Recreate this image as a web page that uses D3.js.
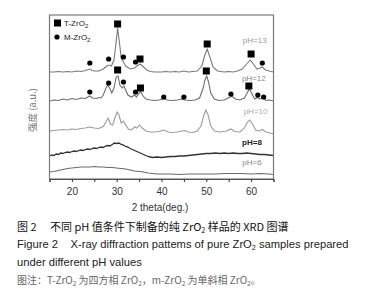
<!DOCTYPE html>
<html><head><meta charset="utf-8">
<script src="https://cdn.jsdelivr.net/npm/d3@7/dist/d3.min.js"></script>
<style>body{margin:0;background:#fff}svg{display:block}text{font-family:"Liberation Sans",Arial,sans-serif;white-space:pre}</style>
</head><body><svg id="c" width="369" height="300"></svg>
<script>
// ---- data (2θ in degrees, intensity in arbitrary units) ----
const xTicks = [20, 30, 40, 50, 60];
const ph13 = [[15,107],[16,107],[17,107.5],[18,107],[19,107.5],[20,107],[21,108],[22,107.5],[23,108.5],[24,110],[24.5,108.5],[25,108],[26,108],[27,110],[27.8,113],[28.2,114],[28.8,113],[29.4,119],[29.8,134],[30.2,151],[30.6,137],[31.0,121],[31.5,117],[32,113],[33,110],[34,111],[34.5,113],[35.2,115],[36,112],[36.7,109],[37.5,107.5],[38.5,107],[40,107],[41,107.5],[42,107],[43,107.5],[44,107],[45,108],[46,107],[47,107.5],[48,108],[49,113],[49.6,123],[50.2,130],[50.8,122],[51.5,112],[52.5,108],[54,107],[55,107.5],[56,107],[57,108],[58,110],[59,115],[59.8,119],[60.5,115],[61.3,110],[62,111],[62.5,112],[63.2,109],[64,108],[65,107]];
const ph12 = [[15,78],[16,79],[17,78.5],[18,80],[19,79],[20,80.5],[21,79.5],[22,81],[23,80.5],[24,83],[24.6,81],[25.5,80.5],[26,81.5],[26.5,81],[27,84],[27.6,91],[28.0,94],[28.4,91],[28.9,86],[29.4,91],[29.9,102],[30.3,103],[30.7,94],[31.2,91],[31.6,93],[32.0,89],[32.5,84],[33.3,82],[34,84],[34.4,82],[35.0,86],[35.4,87],[35.9,83],[36.5,80],[37.5,79],[38.5,78.5],[39.5,79],[40.5,80.5],[41.3,79],[42.5,78.5],[43.5,79],[44.5,80],[45.2,79],[46.5,78.5],[47.5,79],[48.5,81],[49.3,91],[49.7,99],[50.1,103],[50.5,97],[51,86],[51.8,80],[52.8,78.5],[54,79],[55.3,82],[55.8,82.5],[56.5,80],[57.5,79],[58.5,81],[59.1,86],[59.6,90],[60.1,86],[60.8,80],[61.4,81.5],[62,80],[62.7,81],[63.3,78.5],[64,79],[65,78]];
const ph10 = [[15,48],[16,48.5],[17,49],[18,49.5],[19,49],[20,50],[21,49.5],[22,50.5],[23,51],[24,52],[25,51],[26,50.5],[27,52.5],[27.6,57],[28.1,61],[28.6,55],[29.1,54],[29.6,61],[30.1,67],[30.5,64],[31.0,56],[31.5,58],[32.0,54],[32.6,50],[33.3,49],[34.0,52],[34.5,51],[35.1,54],[35.7,51],[36.5,48],[37.5,47],[38.5,47],[39.5,47.5],[40.5,49],[41.5,47],[42.5,46.5],[43.5,47],[44.5,48],[45.2,48.5],[46,47],[47,46.5],[48,48],[48.8,53],[49.4,63],[49.9,69],[50.4,64],[51,53],[51.8,48],[53,47],[54.5,48],[55.5,50],[56.3,47.5],[57.5,47],[58.5,51],[59.2,57],[59.7,59],[60.3,55],[61,49],[61.8,48],[62.5,49.5],[63.3,47],[64.2,46],[65,45]];
const ph8 = [[15,23],[15.5,24],[16,23.5],[16.5,25],[17,24.5],[17.5,26],[18,25.5],[18.5,26.5],[19,27],[19.5,26.5],[20,27.5],[20.5,28],[21,27.5],[21.5,28.5],[22,29],[22.5,28.5],[23,29.5],[23.5,30],[24,29.5],[24.5,30.5],[25,31],[25.5,30.5],[26,31.5],[26.5,32],[27,31.5],[27.5,33],[28,33.5],[28.5,33],[29,34.5],[29.5,36],[30,35.5],[30.5,36],[31,34.5],[31.5,34],[32,32.5],[32.5,32],[33,30.5],[33.5,29.5],[34,28.5],[34.5,27.5],[35,26.5],[35.5,25.5],[36,24.5],[36.5,23.5],[37,22.5],[37.5,22],[38,21.5],[39,22],[40,21.5],[41,22],[42,22.5],[43,22.5],[44,23],[45,23],[46,23.5],[47,24],[48,24.5],[49,25],[50,25.5],[51,25.5],[52,26],[53,25.5],[54,26],[55,25.5],[56,26],[57,25.5],[58,25.5],[59,26],[60,25.5],[61,25],[62,24.5],[63,24.5],[64,24],[65,23.5]];
const ph6 = [[15,7],[16,7.5],[17,8.5],[18,9.5],[19,10.5],[20,11],[21,11.5],[22,12],[23,12],[24,12],[25,12.5],[26,12],[27,12],[28,11.5],[29,11.5],[30,11],[31,10.5],[32,10],[33,9],[34,8],[35,7.5],[36,7],[37,6],[38,5.5],[39,5],[40,5],[42,5],[44,4.5],[46,5],[48,5],[50,5],[52,5],[54,5.5],[56,5.5],[58,5.5],[60,5],[62,5.5],[64,5],[65,4.5]];
const tPeaks = [[30.2,155],[35.2,120],[50.2,135],[60,125],[30.2,109],[35.3,91],[50,108],[59.5,93]];
const mPeaks = [[24,116],[28.2,120],[31.5,122],[34.2,117],[62.5,116],[24,87],[28.2,96],[31.5,97],[34.2,87],[40.5,82],[45,82],[55.5,85],[61.5,84],[62.8,82]];
const seriesNames = ["pH=13","pH=12","pH=10","pH=8","pH=6"];
const labelPos = [[60.8,138],[60.6,100],[61.0,67],[60.2,36],[60.2,16]];

// ---- layout ----
const svg = d3.select("#c");
const L = 49.5, R = 273.5, T = 15, B = 179;
const x = d3.scaleLinear().domain([15,65]).range([L,R]);
const y = d3.scaleLinear().domain([0,164]).range([B,T]);

const curves = [ph13, ph12, ph10, ph8, ph6];
const curveColors = ["#7a7a7a","#6e6e6e","#9c9c9c","#333","#6a6a6a"];
const labelColors = ["#999","#8a8a8a","#aaa","#222","#888"];
const line = d3.line().x(d=>x(d[0])).y(d=>y(d[1])).curve(d3.curveLinear);

curves.forEach((c,i)=>{
  svg.append("path").attr("d", line(c)).attr("fill","none")
    .attr("stroke", curveColors[i]).attr("stroke-width", i===3?1.3:1.1);
  svg.append("text").attr("x", x(labelPos[i][0])).attr("y", y(labelPos[i][1]))
    .attr("text-anchor","middle").attr("dominant-baseline","middle")
    .attr("font-size", 8).attr("font-weight", i===3?"bold":"normal")
    .attr("fill", labelColors[i]).text(seriesNames[i]);
});

// frame
svg.append("rect").attr("x",L).attr("y",T).attr("width",R-L).attr("height",B-T)
  .attr("fill","none").attr("stroke","#7a7a7a").attr("stroke-width",1.2);

// markers
svg.selectAll("rect.t").data(tPeaks).join("rect").attr("class","t")
  .attr("x",d=>x(d[0])-3.5).attr("y",d=>y(d[1])-3.5).attr("width",7).attr("height",7).attr("fill","#000");
svg.selectAll("circle.m").data(mPeaks).join("circle").attr("class","m")
  .attr("cx",d=>x(d[0])).attr("cy",d=>y(d[1])).attr("r",2.6).attr("fill","#000");

// axis
const ax = svg.append("g").attr("transform",`translate(0,${B})`)
  .call(d3.axisBottom(x).tickValues(d3.range(15,66,5)).tickSize(3).tickFormat(d=>xTicks.includes(d)?d:""));
ax.select(".domain").attr("stroke","#555");
ax.selectAll(".tick line").attr("stroke","#333");
ax.selectAll(".tick text").attr("font-size",10).attr("fill","#333").attr("dy","1.0em")
  .style("font-family","'Liberation Sans',Arial,sans-serif");

svg.append("text").attr("x",160).attr("y",208).attr("text-anchor","middle").attr("dominant-baseline","middle")
  .attr("font-size",10).attr("fill","#333").text("2 theta(deg.)");
svg.append("text").attr("transform","translate(33,110) rotate(-90)").attr("text-anchor","middle")
  .attr("dominant-baseline","middle").attr("font-size",9.5).attr("fill","#777")
  .style("font-family","'Noto Sans CJK SC',sans-serif").text("强度 (a.u.)");

// legend
svg.append("rect").attr("x",54).attr("y",19.5).attr("width",7).attr("height",7).attr("fill","#000");
svg.append("circle").attr("cx",57).attr("cy",37).attr("r",2.6).attr("fill","#000");
const lt1 = svg.append("text").attr("x",64).attr("y",26).attr("fill","#222").attr("font-size",8);
lt1.append("tspan").text("T-ZrO");
lt1.append("tspan").attr("font-size",6).attr("dy",2).text("2");
const lt2 = svg.append("text").attr("x",64).attr("y",40).attr("fill","#222").attr("font-size",8);
lt2.append("tspan").text("M-ZrO");
lt2.append("tspan").attr("font-size",6).attr("dy",2).text("2");

// caption
const cap = [
  {y:231, color:"#111", fs:11, fam:"'Noto Sans CJK SC',sans-serif", parts:["图 2　 不同 pH 值条件下制备的纯 ZrO","2"," 样品的 XRD 图谱"]},
  {y:248, color:"#222", fs:11.2, fam:"'Liberation Sans',Arial,sans-serif", parts:["Figure 2    X-ray diffraction pattems of pure ZrO","2"," samples prepared"]},
  {y:266, color:"#222", fs:11.2, fam:"'Liberation Sans',Arial,sans-serif", parts:["under different pH values"]},
  {y:284, color:"#666", fs:10, fam:"'Noto Sans CJK SC',sans-serif", parts:["图注：T-ZrO","2"," 为四方相 ZrO","2","，m-ZrO","2"," 为单斜相 ZrO","2","。"]}
];
cap.forEach(c=>{
  const t = svg.append("text").attr("x",17).attr("y",c.y).attr("fill",c.color)
    .attr("font-size",c.fs).style("font-family",c.fam).attr("xml:space","preserve");
  c.parts.forEach((p,i)=>{
    if(i%2===1){ t.append("tspan").attr("font-size",c.fs*0.65).attr("dy",1.5).text(p); }
    else { t.append("tspan").attr("dy", i>0?-1.5:0).text(p); }
  });
});
</script></body></html>
